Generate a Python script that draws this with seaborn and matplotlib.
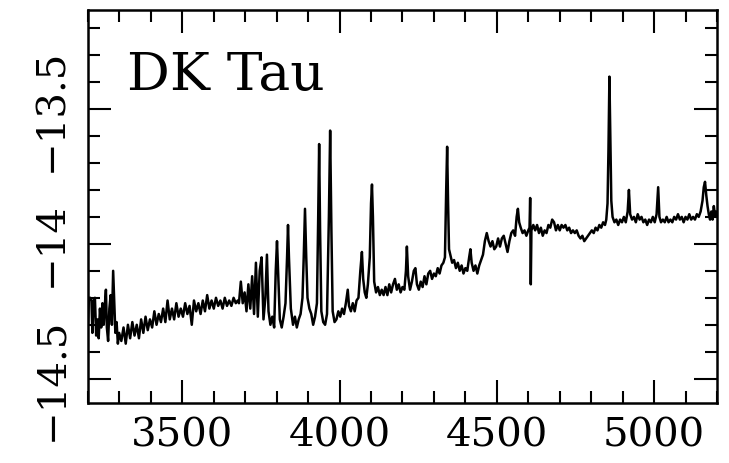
import matplotlib
matplotlib.use("Agg")
import matplotlib.pyplot as plt
from matplotlib.ticker import MultipleLocator, FuncFormatter
import numpy as np
import pandas as pd
import seaborn as sns

# ---- data ----
title_text = "DK Tau"
x_ticks = [3500, 4000, 4500, 5000]
y_ticks = [-14.5, -14.0, -13.5]

wl_blue = [3200, 3203, 3207, 3211, 3214, 3218, 3222, 3226, 3230, 3234, 3238, 3242,
           3246, 3250, 3254, 3257, 3260, 3264, 3268, 3272, 3276, 3280, 3283, 3287,
           3291, 3295, 3299]
fx_blue = [-14.30, -14.20, -14.20, -14.21, -14.33, -14.21, -14.20, -14.34, -14.28,
           -14.35, -14.24, -14.31, -14.22, -14.30, -14.22, -14.17, -14.31, -14.36,
           -14.24, -14.19, -14.30, -14.10, -14.20, -14.33, -14.29, -14.37, -14.33]

wl_uv = [3306, 3313, 3320, 3327, 3334, 3341, 3348, 3355, 3362, 3369, 3376, 3383,
         3390, 3397, 3404, 3411, 3418, 3425, 3432, 3439, 3446, 3453, 3460, 3467,
         3474, 3481, 3488, 3495, 3502, 3509, 3516, 3523, 3530, 3537, 3544, 3551,
         3558, 3565, 3572, 3579, 3586, 3593, 3600, 3607, 3614, 3621, 3628, 3635,
         3642, 3649, 3656, 3663, 3670, 3676]
fx_uv = [-14.36, -14.31, -14.37, -14.30, -14.35, -14.29, -14.34, -14.30, -14.35,
         -14.28, -14.33, -14.27, -14.32, -14.28, -14.31, -14.25, -14.30, -14.26,
         -14.29, -14.24, -14.29, -14.21, -14.28, -14.24, -14.28, -14.22, -14.27,
         -14.24, -14.27, -14.22, -14.26, -14.23, -14.30, -14.21, -14.25, -14.22,
         -14.26, -14.21, -14.25, -14.19, -14.24, -14.21, -14.24, -14.20, -14.23,
         -14.21, -14.24, -14.20, -14.23, -14.21, -14.23, -14.20, -14.22, -14.21]

wl_balmer = [3680, 3686, 3692, 3698, 3704, 3710, 3716, 3722, 3728, 3734, 3740, 3746,
             3752, 3758, 3764, 3769, 3774, 3780, 3786, 3792, 3797, 3801, 3805, 3810,
             3816, 3822, 3828, 3833, 3836, 3839, 3845, 3852, 3858, 3864, 3870, 3876,
             3882, 3886, 3890, 3894, 3898, 3904, 3910, 3916, 3922, 3928, 3932, 3935,
             3938, 3942, 3948, 3954, 3960, 3966, 3970, 3974, 3978, 3984]
fx_balmer = [-14.22, -14.14, -14.22, -14.18, -14.25, -14.15, -14.24, -14.12, -14.26,
             -14.07, -14.27, -14.10, -14.05, -14.28, -14.20, -14.04, -14.25, -14.30,
             -14.27, -14.31, -14.10, -13.99, -14.12, -14.28, -14.31, -14.27, -14.22,
             -14.05, -13.93, -14.05, -14.24, -14.30, -14.27, -14.31, -14.28, -14.26,
             -14.20, -14.05, -13.87, -14.05, -14.20, -14.24, -14.26, -14.30, -14.27,
             -14.22, -13.90, -13.63, -13.95, -14.25, -14.29, -14.30, -14.26, -13.90,
             -13.58, -13.95, -14.25, -14.29]

wl_mid = [3990, 3996, 4002, 4008, 4014, 4020, 4026, 4030, 4036, 4042, 4048, 4054,
          4060, 4066, 4071, 4075, 4080, 4085, 4090, 4096, 4100, 4103, 4106, 4110,
          4116, 4122, 4128, 4134, 4140, 4146, 4152, 4158, 4164, 4170, 4176, 4182,
          4188, 4194, 4200, 4206, 4211, 4214, 4218, 4224, 4230, 4236, 4241, 4246,
          4252, 4258, 4264, 4270, 4276, 4282, 4288, 4294, 4300, 4306, 4312, 4318,
          4324, 4330, 4335, 4339, 4342, 4345, 4348, 4352, 4358, 4364, 4370, 4376,
          4382, 4388, 4394, 4400, 4406, 4412, 4416, 4420, 4426, 4432, 4438, 4444,
          4450, 4456, 4462, 4468, 4474, 4480, 4486, 4492, 4498, 4504, 4510, 4516,
          4522, 4528, 4534, 4540, 4546, 4552, 4558, 4563, 4567, 4571, 4576, 4582,
          4588, 4594, 4600, 4604, 4606, 4608, 4610, 4616, 4622, 4628, 4634, 4640,
          4646, 4652, 4658, 4664, 4670, 4676, 4682, 4688, 4694, 4700, 4706, 4712,
          4718, 4724, 4730, 4736, 4742, 4748, 4754, 4760, 4766, 4772, 4778, 4784,
          4790, 4796, 4802, 4808, 4814, 4820, 4826, 4832, 4838, 4844, 4848, 4852,
          4855, 4858, 4861, 4864, 4868]
fx_mid = [-14.28, -14.25, -14.27, -14.24, -14.26, -14.22, -14.17, -14.23, -14.25,
          -14.22, -14.25, -14.21, -14.20, -14.10, -14.03, -14.13, -14.18, -14.20,
          -14.15, -14.05, -13.85, -13.78, -13.90, -14.14, -14.18, -14.16, -14.19,
          -14.17, -14.19, -14.16, -14.19, -14.15, -14.18, -14.15, -14.13, -14.17,
          -14.15, -14.18, -14.16, -14.17, -14.10, -14.01, -14.12, -14.17, -14.14,
          -14.10, -14.09, -14.15, -14.17, -14.14, -14.16, -14.12, -14.15, -14.11,
          -14.10, -14.13, -14.11, -14.12, -14.09, -14.11, -14.08, -14.07, -14.05,
          -13.80, -13.64, -13.85, -14.02, -14.04, -14.07, -14.06, -14.09, -14.07,
          -14.10, -14.08, -14.11, -14.09, -14.10, -14.05, -14.02, -14.07, -14.10,
          -14.08, -14.11, -14.08, -14.06, -14.04, -13.99, -13.96, -13.99, -14.01,
          -13.99, -14.02, -14.01, -13.98, -14.01, -13.98, -13.97, -14.00, -14.03,
          -13.99, -13.96, -13.95, -13.97, -13.90, -13.87, -13.92, -13.94, -13.96,
          -13.95, -13.97, -13.95, -13.94, -13.83, -14.15, -13.95, -13.93, -13.95,
          -13.93, -13.96, -13.94, -13.97, -13.95, -13.96, -13.93, -13.94, -13.91,
          -13.92, -13.95, -13.93, -13.95, -13.93, -13.94, -13.93, -13.95, -13.94,
          -13.96, -13.95, -13.96, -13.95, -13.97, -13.98, -13.97, -13.99, -13.98,
          -13.97, -13.96, -13.95, -13.96, -13.94, -13.95, -13.93, -13.94, -13.92,
          -13.93, -13.91, -13.85, -13.65, -13.38, -13.60, -13.84, -13.90]

wl_red = [4874, 4880, 4886, 4892, 4898, 4904, 4910, 4916, 4920, 4924, 4930, 4936,
          4942, 4948, 4954, 4960, 4966, 4972, 4978, 4984, 4990, 4996, 5002, 5008,
          5013, 5017, 5022, 5028, 5034, 5040, 5046, 5052, 5058, 5064, 5070, 5076,
          5082, 5088, 5094, 5100, 5106, 5112, 5118, 5124, 5130, 5136, 5142, 5148,
          5154, 5158, 5162, 5166, 5170, 5174, 5178, 5182, 5186, 5190, 5194, 5198, 5200]
fx_red = [-13.92, -13.91, -13.93, -13.91, -13.92, -13.90, -13.92, -13.88, -13.80,
          -13.89, -13.91, -13.90, -13.92, -13.89, -13.91, -13.90, -13.92, -13.91,
          -13.93, -13.91, -13.92, -13.90, -13.92, -13.89, -13.79, -13.90, -13.92,
          -13.91, -13.92, -13.90, -13.92, -13.91, -13.92, -13.90, -13.91, -13.89,
          -13.91, -13.90, -13.92, -13.90, -13.91, -13.89, -13.91, -13.90, -13.91,
          -13.89, -13.90, -13.88, -13.84, -13.79, -13.77, -13.82, -13.86, -13.89,
          -13.91, -13.88, -13.91, -13.86, -13.90, -13.88, -13.90]

wavelength = wl_blue + wl_uv + wl_balmer + wl_mid + wl_red
log_flux = fx_blue + fx_uv + fx_balmer + fx_mid + fx_red
df = pd.DataFrame({"wavelength": wavelength, "log_flux": log_flux})

# ---- plot ----
sns.set_style("ticks")
plt.rcParams["font.family"] = ["DejaVu Serif", "DejaVu Sans"]
plt.rcParams["text.color"] = "black"
plt.rcParams["xtick.color"] = "black"
plt.rcParams["ytick.color"] = "black"
plt.rcParams["xtick.labelcolor"] = "black"
plt.rcParams["ytick.labelcolor"] = "black"

fig = plt.figure(figsize=(7.29, 4.64), dpi=100)
ax = fig.add_axes([0.1207, 0.1293, 0.8628, 0.847])

sns.lineplot(data=df, x="wavelength", y="log_flux", ax=ax, color="black",
             linewidth=1.8, sort=False, estimator=None)

ax.set_xlim(3200, 5200)
ax.set_ylim(-14.59, -13.133)
ax.set_xlabel("")
ax.set_ylabel("")

ax.xaxis.set_major_locator(MultipleLocator(500))
ax.xaxis.set_minor_locator(MultipleLocator(100))
ax.yaxis.set_major_locator(MultipleLocator(0.5))
ax.yaxis.set_minor_locator(MultipleLocator(0.1))

fmt = FuncFormatter(lambda v, p: ("%g" % round(v, 3)).replace("-", "\u2212"))
ax.xaxis.set_major_formatter(fmt)
ax.yaxis.set_major_formatter(fmt)

for s in ax.spines.values():
    s.set_linewidth(1.8)
    s.set_color("black")

ax.tick_params(which="both", direction="in", top=True, right=True,
               color="black", labelcolor="black", width=1.5)
ax.tick_params(which="major", length=16.5, labelsize=29)
ax.tick_params(which="minor", length=8.6)
ax.tick_params(axis="x", which="major", pad=10)
ax.tick_params(axis="y", which="major", pad=13)

for lab in ax.get_yticklabels():
    lab.set_rotation(90)
    lab.set_va("center")

ax.text(0.062, 0.799, title_text, transform=ax.transAxes, fontsize=38.5,
        ha="left", va="baseline", color="black")

fig.savefig("out.png", dpi=100)
